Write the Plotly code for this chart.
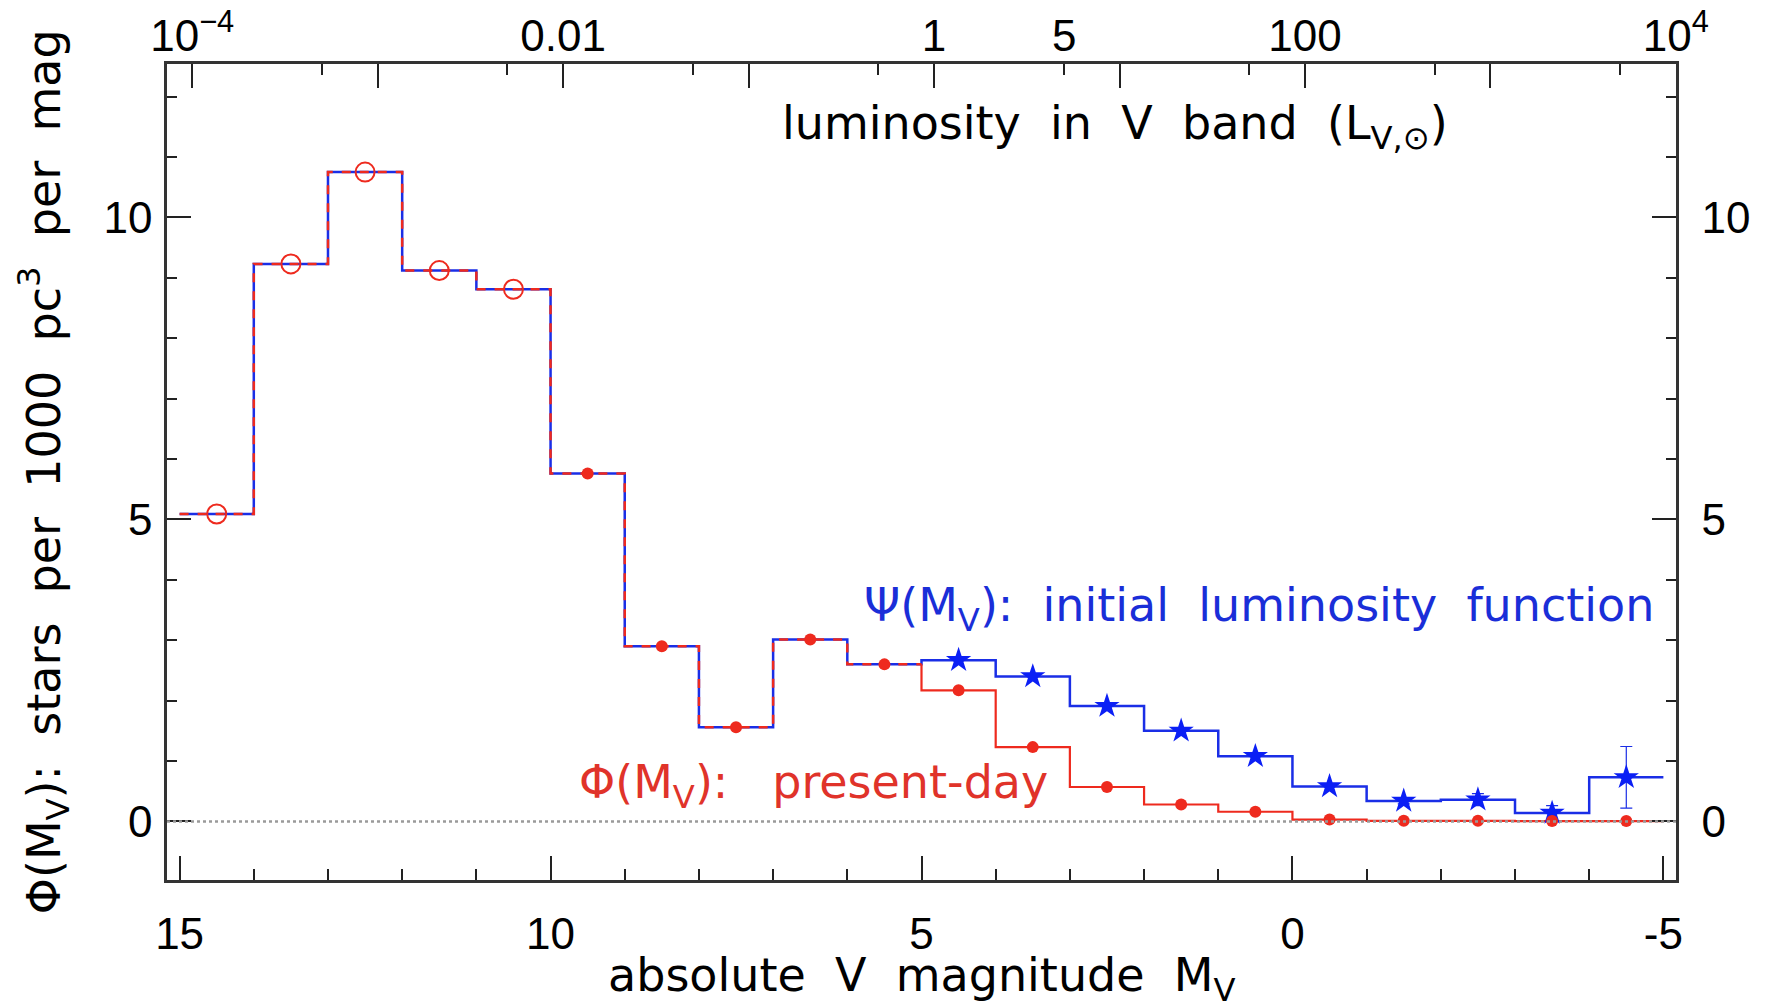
import math
import plotly.graph_objects as go

# ---------------- data ----------------
MV_SUN = 4.83
mag_edges = [15, 14, 13, 12, 11, 10, 9, 8, 7, 6, 5, 4, 3, 2, 1, 0, -1, -2, -3, -4, -5]
bin_centers = [14.5, 13.5, 12.5, 11.5, 10.5, 9.5, 8.5, 7.5, 6.5, 5.5,
               4.5, 3.5, 2.5, 1.5, 0.5, -0.5, -1.5, -2.5, -3.5, -4.5]
# initial luminosity function Psi(Mv)
psi = [5.09, 9.23, 10.75, 9.12, 8.81, 5.76, 2.90, 1.56, 3.01, 2.60,
       2.67, 2.40, 1.91, 1.50, 1.08, 0.58, 0.34, 0.36, 0.14, 0.73]
psi_err = [0, 0, 0, 0, 0, 0, 0, 0, 0, 0,
           0, 0, 0, 0, 0, 0, 0.05, 0.10, 0.12, 0.51]
# present-day luminosity function Phi(Mv)
phi = [5.09, 9.23, 10.75, 9.12, 8.81, 5.76, 2.90, 1.56, 3.01, 2.60,
       2.17, 1.23, 0.57, 0.28, 0.16, 0.03, 0.01, 0.01, 0.005, 0.005]

x_ticks = [15, 10, 5, 0, -5]
x_ticktext = ["15", "10", "5", "0", "-5"]
y_ticks = [0, 5, 10]
y_ticktext = ["0", "5", "10"]
lum_ticks = [1e-4, 1e-3, 1e-2, 1e-1, 1, 10, 100, 1e3, 1e4]
lum_ticktext = ["10<sup>−4</sup>", "", "0.01", "", "1", "", "100", "", "10<sup>4</sup>"]
lum_minor = [5e-5, 5e-4, 5e-3, 5e-2, 5e-1, 5, 50, 500, 5000]
lum_extra_label = 5  # labelled minor tick

x_range = [15.17, -5.17]
y_range = [-0.97, 12.54]

BLUE = "#1a2ee6"
STAR = "#0b1ff5"
RED = "#ee2a1e"
FONT = "DejaVu Sans"
TICKFONT = "Liberation Sans"
FS = 46
TFS = 44
SP = " &nbsp;"  # wide word spacing as in the original

def lum(m):
    return -0.4 * (m - MV_SUN)

fig = go.Figure()

# blue step line (initial LF)
fig.add_trace(go.Scatter(x=mag_edges, y=psi + [psi[-1]], mode="lines",
                         line=dict(shape="hv", color=BLUE, width=2.5),
                         showlegend=False, hoverinfo="skip"))
# red dashed step over the common part
n_common = 10
fig.add_trace(go.Scatter(x=mag_edges[:n_common + 1], y=phi[:n_common] + [phi[n_common - 1]],
                         mode="lines",
                         line=dict(shape="hv", color=RED, width=2.5, dash="9px,9px"),
                         showlegend=False, hoverinfo="skip"))
# red solid step for the diverging part
fig.add_trace(go.Scatter(x=mag_edges[n_common:], y=phi[n_common - 1:],
                         mode="lines",
                         line=dict(shape="vh", color=RED, width=2.2),
                         showlegend=False, hoverinfo="skip"))
# blue stars with error bars
fig.add_trace(go.Scatter(x=bin_centers[n_common:], y=psi[n_common:], mode="markers",
                         marker=dict(symbol="star", size=19, color=STAR,
                                     line=dict(width=0)),
                         error_y=dict(type="data", array=psi_err[n_common:], visible=True,
                                      color=BLUE, thickness=1.2, width=6),
                         showlegend=False, hoverinfo="skip"))
# red open circles
fig.add_trace(go.Scatter(x=bin_centers[:5], y=phi[:5], mode="markers",
                         marker=dict(symbol="circle-open", size=19, color=RED,
                                     line=dict(width=2, color=RED)),
                         showlegend=False, hoverinfo="skip"))
# red filled dots
fig.add_trace(go.Scatter(x=bin_centers[5:], y=phi[5:], mode="markers",
                         marker=dict(symbol="circle", size=12, color=RED),
                         showlegend=False, hoverinfo="skip"))
# invisible trace on the secondary axes
fig.add_trace(go.Scatter(x=[1.0], y=[0], xaxis="x2", yaxis="y2", mode="markers",
                         marker=dict(opacity=0), showlegend=False, hoverinfo="skip"))

axis_common = dict(showgrid=False, zeroline=False, showline=True, linecolor="#333",
                   linewidth=2.5, ticks="inside", ticklen=24, tickwidth=2,
                   tickcolor="#222", automargin=False,
                   tickfont=dict(family=TICKFONT, size=TFS, color="black"))

# page body has an 8px default margin -> figure is 8px smaller than the window
fig.update_layout(
    width=1758, height=999, autosize=False,
    margin=dict(l=159, r=90, t=56, b=127),
    paper_bgcolor="white", plot_bgcolor="white",
    font=dict(family=FONT, size=FS, color="black"),
    xaxis=dict(range=x_range, tickmode="array", tickvals=x_ticks, ticktext=x_ticktext,
               minor=dict(dtick=1, tick0=0, ticks="inside", ticklen=11,
                          tickwidth=2, tickcolor="#222"),
               ticklabelstandoff=13, anchor="y", **axis_common),
    xaxis2=dict(type="log", overlaying="x", side="top", anchor="y",
                range=[lum(x_range[0]), lum(x_range[1]) + 0.0005],
                tickmode="array", tickvals=lum_ticks, ticktext=lum_ticktext,
                minor=dict(tickmode="array", tickvals=lum_minor, ticks="inside",
                           ticklen=11, tickwidth=2, tickcolor="#222"),
                ticklabelstandoff=-7, **axis_common),
    yaxis=dict(range=y_range, tickmode="array", tickvals=y_ticks, ticktext=y_ticktext,
               minor=dict(dtick=1, tick0=0, ticks="inside", ticklen=10,
                          tickwidth=2, tickcolor="#222"),
               anchor="x", ticklabelstandoff=3, **axis_common),
    yaxis2=dict(range=y_range, overlaying="y", side="right", anchor="x",
                tickmode="array", tickvals=y_ticks, ticktext=y_ticktext,
                minor=dict(dtick=1, tick0=0, ticks="inside", ticklen=10,
                           tickwidth=2, tickcolor="#222"),
                ticklabelstandoff=14, **axis_common),
)

# zero reference line
fig.add_shape(type="line", xref="paper", yref="y", x0=0, x1=1, y0=0, y1=0,
              line=dict(color="#9a9a9a", width=2.5, dash="dot"), layer="above")

# labelled "5" on the luminosity axis (minor tick)
fig.add_annotation(x=math.log10(lum_extra_label), xref="x2", y=1.0, yref="paper",
                   yshift=29, text=str(lum_extra_label), showarrow=False,
                   font=dict(family=TICKFONT, size=TFS, color="black"),
                   xanchor="center", yanchor="middle")

# axis titles and labels
fig.add_annotation(text="Φ(M<sub>V</sub>):" + SP + "stars" + SP + "per" + SP + "1000" + SP
                        + "pc<sup>3</sup>" + SP + "per" + SP + "mag",
                   xref="paper", yref="paper", x=-0.082, y=0.5, textangle=-90,
                   showarrow=False, xanchor="center", yanchor="middle",
                   font=dict(family=FONT, size=FS, color="black"))
fig.add_annotation(text="absolute" + SP + "V" + SP + "magnitude" + SP + "M<sub>V</sub>",
                   xref="paper", yref="paper", x=0.5, y=-0.121,
                   showarrow=False, xanchor="center", yanchor="middle",
                   font=dict(family=FONT, size=FS, color="black"))
fig.add_annotation(text="luminosity" + SP + "in" + SP + "V" + SP + "band" + SP + "(L<sub>V,⊙</sub>)",
                   xref="paper", yref="paper", x=0.628, y=0.923,
                   showarrow=False, xanchor="center", yanchor="middle",
                   font=dict(family=FONT, size=FS, color="black"))
fig.add_annotation(text="Ψ(M<sub>V</sub>):" + SP + "initial" + SP + "luminosity" + SP + "function",
                   xref="paper", yref="paper", x=0.987, y=0.333,
                   showarrow=False, xanchor="right", yanchor="middle",
                   font=dict(family=FONT, size=FS, color="#1a2ed8"))
fig.add_annotation(text="Φ(M<sub>V</sub>):" + SP + "&nbsp;present-day",
                   xref="paper", yref="paper", x=0.585, y=0.116,
                   showarrow=False, xanchor="right", yanchor="middle",
                   font=dict(family=FONT, size=FS, color="#e0332a"))

fig.write_html("out.html")
